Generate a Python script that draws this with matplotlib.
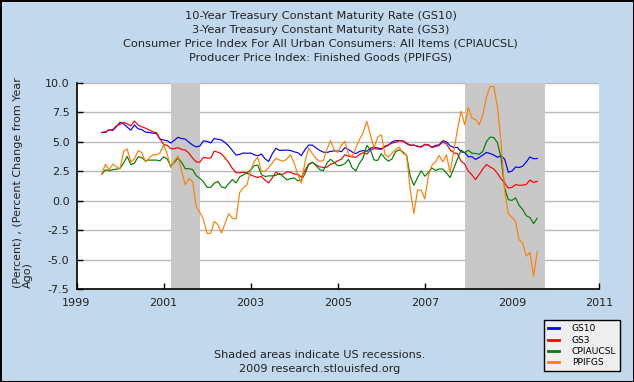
import matplotlib
matplotlib.use("Agg")
import matplotlib.pyplot as plt
import pandas as pd

# monthly observations, Aug 1999 .. Aug 2009
months = pd.date_range("1999-08-01", periods=121, freq="MS")

gs10 = [5.79, 5.80, 6.03, 5.97, 6.28,
        6.66, 6.52, 6.26, 5.99, 6.44, 6.10, 6.05, 5.83, 5.80, 5.74, 5.72, 5.24,
        5.16, 5.10, 4.89, 5.14, 5.39, 5.28, 5.24, 4.97, 4.73, 4.57, 4.65, 5.09,
        5.04, 4.91, 5.28, 5.21, 5.16, 4.93, 4.65, 4.26, 3.87, 3.94, 4.05, 4.03,
        4.05, 3.90, 3.81, 3.96, 3.57, 3.33, 3.98, 4.45, 4.27, 4.29, 4.30, 4.27,
        4.15, 4.08, 3.83, 4.35, 4.72, 4.73, 4.50, 4.28, 4.13, 4.10, 4.19, 4.23,
        4.22, 4.17, 4.50, 4.34, 4.14, 4.00, 4.18, 4.26, 4.20, 4.46, 4.54, 4.47,
        4.42, 4.57, 4.72, 4.99, 5.11, 5.11, 5.09, 4.88, 4.72, 4.73, 4.60, 4.56,
        4.76, 4.72, 4.56, 4.69, 4.75, 5.10, 5.00, 4.67, 4.52, 4.53, 4.15, 4.10,
        3.74, 3.74, 3.51, 3.68, 3.88, 4.10, 4.01, 3.89, 3.69, 3.81, 3.53, 2.42,
        2.52, 2.87, 2.82, 2.93, 3.29, 3.72, 3.56, 3.59]

gs3 = [5.80, 5.85, 6.00, 6.05, 6.35,
       6.49, 6.65, 6.53, 6.36, 6.77, 6.43, 6.28, 6.17, 6.02, 5.85, 5.79, 5.26,
       4.77, 4.71, 4.43, 4.42, 4.51, 4.35, 4.31, 4.04, 3.62, 3.29, 3.27, 3.68,
       3.63, 3.62, 4.21, 4.12, 3.99, 3.62, 3.24, 2.74, 2.38, 2.37, 2.42, 2.33,
       2.20, 2.06, 1.98, 2.06, 1.74, 1.52, 1.93, 2.44, 2.23, 2.26, 2.45, 2.43,
       2.27, 2.25, 2.00, 2.57, 3.10, 3.26, 3.05, 2.88, 2.83, 2.85, 3.09, 3.21,
       3.39, 3.54, 3.91, 3.79, 3.72, 3.69, 3.91, 4.08, 3.96, 4.29, 4.43, 4.39,
       4.35, 4.64, 4.74, 4.89, 4.97, 5.09, 5.07, 4.85, 4.69, 4.72, 4.64, 4.58,
       4.79, 4.75, 4.51, 4.60, 4.69, 5.00, 4.82, 4.34, 4.06, 4.01, 3.35, 3.13,
       2.51, 2.19, 1.80, 2.23, 2.69, 3.08, 2.87, 2.70, 2.32, 1.86, 1.51, 1.07,
       1.13, 1.37, 1.31, 1.32, 1.39, 1.76, 1.55, 1.65]

cpi = [2.26, 2.63, 2.56, 2.63, 2.68,
       2.74, 3.22, 3.76, 3.07, 3.19, 3.73, 3.66, 3.41, 3.45, 3.45, 3.45, 3.39,
       3.73, 3.53, 2.92, 3.27, 3.62, 3.25, 2.72, 2.72, 2.65, 2.13, 1.90, 1.60,
       1.14, 1.14, 1.48, 1.64, 1.18, 1.07, 1.46, 1.80, 1.51, 2.03, 2.20, 2.38,
       2.60, 2.98, 3.02, 2.22, 2.06, 2.11, 2.11, 2.16, 2.32, 2.04, 1.77, 1.88,
       1.93, 1.69, 1.74, 2.29, 3.05, 3.27, 2.99, 2.65, 2.54, 3.19, 3.52, 3.26,
       2.97, 3.01, 3.15, 3.51, 2.80, 2.53, 3.17, 3.64, 4.69, 4.35, 3.46, 3.42,
       3.99, 3.60, 3.36, 3.55, 4.17, 4.32, 4.15, 3.82, 2.06, 1.31, 1.97, 2.54,
       2.08, 2.42, 2.78, 2.57, 2.69, 2.69, 2.36, 1.97, 2.76, 3.54, 4.31, 4.08,
       4.28, 4.03, 4.02, 3.94, 4.18, 5.02, 5.40, 5.37, 4.94, 3.66, 1.07, 0.09,
       0.03, 0.24, -0.38, -0.74, -1.28, -1.43, -1.95, -1.48]

ppi = [2.3, 3.1, 2.6, 3.1, 2.9,
       2.7, 4.2, 4.4, 3.3, 3.55, 4.25, 4.1, 3.3, 3.6, 3.9, 3.9, 4.05,
       4.75, 3.9, 2.8, 3.4, 3.8, 2.5, 1.35, 1.9, 1.6, -0.5, -1.0, -1.6,
       -2.8, -2.75, -1.75, -2.05, -2.75, -1.9, -1.1, -1.5, -1.55, 0.7, 1.1, 1.35,
       2.6, 3.35, 3.7, 2.5, 2.5, 2.8, 3.2, 3.6, 3.45, 3.35, 3.55, 3.9,
       3.2, 2.2, 1.5, 3.3, 4.5, 4.0, 3.6, 3.35, 3.4, 4.35, 5.1, 4.35,
       4.1, 4.75, 5.05, 3.95, 3.7, 4.5, 5.2, 5.75, 6.75, 5.6, 4.5, 5.4,
       5.6, 3.9, 3.7, 4.05, 4.35, 4.55, 4.0, 3.9, 0.9, -1.1, 0.9, 0.9,
       0.15, 2.2, 3.0, 3.3, 3.85, 3.3, 3.9, 2.4, 4.2, 6.0, 7.6, 6.45,
       7.9, 7.0, 6.9, 6.45, 7.3, 8.8, 9.7, 9.7, 8.0, 5.0, 0.8, -1.1,
       -1.4, -1.8, -3.3, -3.6, -4.7, -4.4, -6.4, -4.3]

series_names = ["GS10", "GS3", "CPIAUCSL", "PPIFGS"]
series_colors = ["#0000ff", "#ff0000", "#007f00", "#ff8000"]

recessions = [("2001-03-01", "2001-11-01"), ("2007-12-01", "2009-10-01")]
year_ticks = [1999, 2001, 2003, 2005, 2007, 2009, 2011]
y_ticks = [-7.5, -5.0, -2.5, 0.0, 2.5, 5.0, 7.5, 10.0]

titles = ["10-Year Treasury Constant Maturity Rate (GS10)",
          "3-Year Treasury Constant Maturity Rate (GS3)",
          "Consumer Price Index For All Urban Consumers: All Items (CPIAUCSL)",
          "Producer Price Index: Finished Goods (PPIFGS)"]
y_label = "(Percent) , (Percent Change from Year\nAgo)"
notes = ["Shaded areas indicate US recessions.", "2009 research.stlouisfed.org"]

bg = "#c2d8ec"
txt = "#222222"
W, H = 634, 382
fig = plt.figure(figsize=(W / 100, H / 100), dpi=100, facecolor=bg)
fig.patch.set_edgecolor("black")
fig.patch.set_linewidth(2)

left, right, top, bottom = 76.5, 599, 83, 289
ax = fig.add_axes([left / W, 1 - bottom / H, (right - left) / W, (bottom - top) / H])
ax.set_facecolor("white")

for start, end in recessions:
    ax.axvspan(pd.Timestamp(start), pd.Timestamp(end), color="#c8c8c8", lw=0, zorder=1)

for values, name, color in zip([gs10, gs3, cpi, ppi], series_names, series_colors):
    ax.plot(months, values, color=color, lw=0.85, label=name, zorder=2)

ax.set_xlim(pd.Timestamp("1999-01-01"), pd.Timestamp("2011-01-01"))
ax.set_ylim(-7.5, 10.0)
ax.set_xticks([pd.Timestamp(f"{y}-01-01") for y in year_ticks])
ax.set_xticklabels([str(y) for y in year_ticks])
ax.set_yticks(y_ticks)
ax.set_yticklabels([f"{v:.1f}" for v in y_ticks])

ax.set_axisbelow(True)
ax.yaxis.grid(True, color="#b8b8b8", lw=1)
for side in ["top", "right"]:
    ax.spines[side].set_visible(False)
for side in ["left", "bottom"]:
    ax.spines[side].set_linewidth(1.2)

ax.tick_params(direction="in", length=4, width=1, labelsize=8, labelcolor=txt)
ax.tick_params(axis="x", pad=6.5)
ax.tick_params(axis="y", pad=5)

for k, line in enumerate(titles):
    fig.text(0.506, 1 - (16 + 13.9 * k) / H, line, ha="center", va="center",
             fontsize=8.2, color=txt)

fig.text(23 / W, 1 - 183 / H, y_label, rotation=90, ha="center", va="center",
         multialignment="left", fontsize=8, color=txt, linespacing=1.05)

fig.text(320 / W, 1 - 354.5 / H, notes[0], ha="center", va="center", fontsize=8.1, color=txt)
fig.text(320 / W, 1 - 369.5 / H, notes[1], ha="center", va="center", fontsize=8.1, color=txt)

leg = fig.legend(loc="lower right", bbox_to_anchor=(625 / W, 6 / H), fontsize=6.6,
                 handlelength=1.2, handletextpad=1.4, labelspacing=0.25, borderpad=0.45,
                 fancybox=False, framealpha=1, facecolor="#efefef", edgecolor="black")
leg.get_frame().set_linewidth(1)
for handle in leg.legend_handles:
    handle.set_linewidth(2)

fig.savefig("out.png", dpi=100, facecolor=bg, edgecolor="black")
